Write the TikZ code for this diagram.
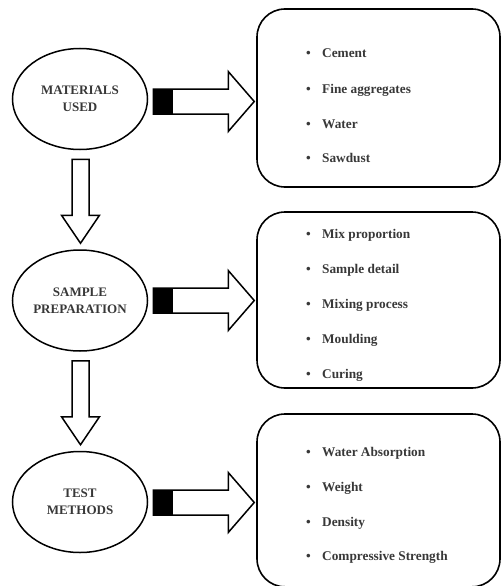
\documentclass[tikz,border=0pt]{standalone}
\usepackage{fontspec}
\setmainfont{Liberation Serif}
\usetikzlibrary{shapes.geometric,calc}
\begin{document}
\begin{tikzpicture}[x=1pt,y=-1pt,
  stage/.style={ellipse,draw,line width=1.5pt,minimum width=135pt,minimum height=101pt,
    inner sep=0pt,align=center,font=\bfseries\fontsize{13}{17}\selectfont,text=black!78},
  listbox/.style={draw,line width=1.6pt,rounded corners=28pt,minimum width=243pt,inner sep=0pt},
  item/.style={anchor=base west,inner sep=0pt,font=\bfseries\fontsize{13.3}{16}\selectfont,text=black!78},
  outl/.style={draw,line width=1.5pt,line join=miter,fill=white}]
\useasboundingbox (0,0) rectangle (502,586);
% stages
\node[stage] (m) at (80,99) {MATERIALS\\USED};
\node[stage] (s) at (80,300.5) {SAMPLE\\PREPARATION};
\node[stage] (t) at (80,502) {TEST\\METHODS};
% boxes
\node[listbox,minimum height=178pt] (b1) at (378.5,98) {};
\node[listbox,minimum height=176pt] (b2) at (378.5,300) {};
\node[listbox,minimum height=172.8pt] (b3) at (378.5,500.4) {};
% items
\newcommand{\itm}[3]{\node[item] (#1) at (306,#2) {\makebox[16pt][l]{\textbullet}#3};}
\itm{i1}{58}{Cement}
\itm{i2}{93}{Fine aggregates}
\itm{i3}{128}{Water}
\itm{i4}{162}{Sawdust}
\itm{j1}{238}{Mix proportion}
\itm{j2}{273}{Sample detail}
\itm{j3}{308}{Mixing process}
\itm{j4}{343}{Moulding}
\itm{j5}{378}{Curing}
\itm{k1}{456}{Water Absorption}
\itm{k2}{491}{Weight}
\itm{k3}{526}{Density}
\itm{k4}{560}{Compressive Strength}
% side arrows
\foreach \e/\yc in {m/101.5,s/300.5,t/502.5}{
  \coordinate (sa) at ($(\e.east)+(5,0)$);
  \path[outl] (sa|-0,\yc) ++(0,-12.5) -- ++(75,0) -- ++(0,-17.5) -- ++(26,30) -- ++(-26,30) -- ++(0,-17.5) -- ++(-75,0) -- cycle;
  \fill[black] (sa|-0,\yc) ++(0,-12.5) rectangle ++(20,25);
}
% down arrows
\foreach \a/\b in {m/s,s/t}{
  \coordinate (da) at ($(\a.south)+(0.5,9)$);
  \path[outl] (da) ++(-8.5,0) -- ++(17,0) -- ++(0,56) -- ++(10.5,0) -- ++(-19,28) -- ++(-19,-28) -- ++(10.5,0) -- cycle;
}
\end{tikzpicture}
\end{document}
